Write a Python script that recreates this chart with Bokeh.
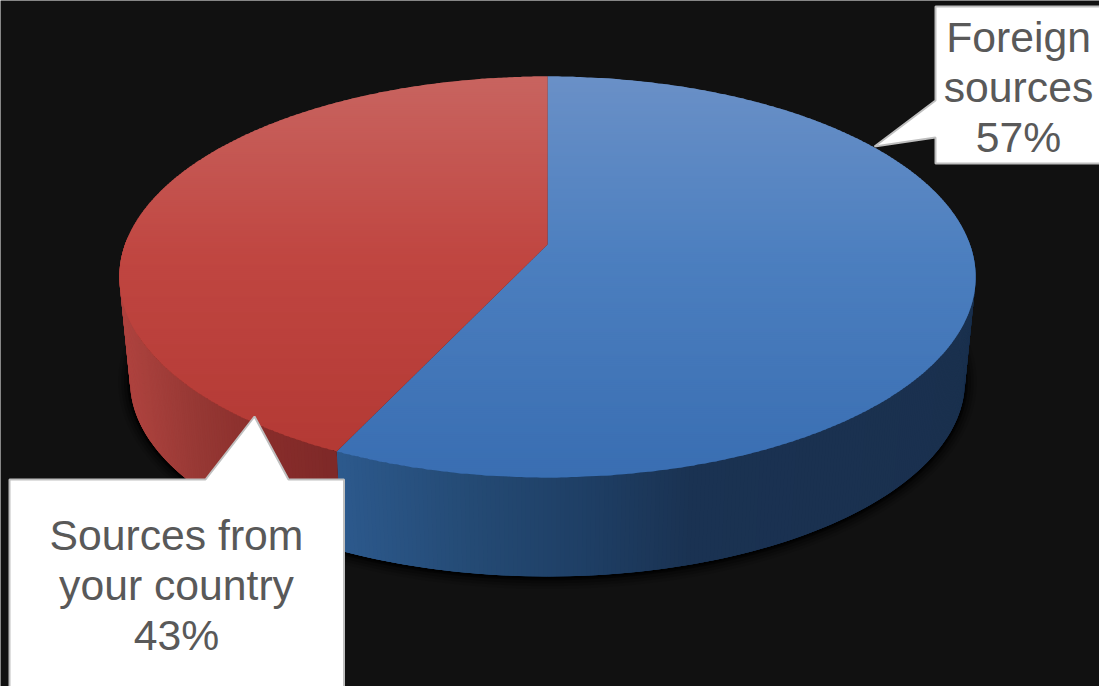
import numpy as np
from bokeh.core.properties import value
from bokeh.embed import file_html
from bokeh.models import Range1d
from bokeh.plotting import figure
from bokeh.resources import INLINE

# Chart data
categories = ["Foreign sources", "Sources from your country"]
shares = [57, 43]
label_lines = [["Foreign", "sources"], ["Sources from", "your country"]]

# Disc geometry on the page, in pixels, with a perspective foreshortening term
APEX_X, APEX_Y = 547.0, 244.0
SCALE_X, SCALE_Y, PERSP = 422.5, 195.2, 0.162
WALL_DROP, WALL_SCALE = 104.8, 0.975
TOP_Y0, TOP_Y1 = 76.0, 477.0

# Colour ramps: top face runs vertically (0 = far rim, 1 = near rim), wall runs along x
top_stops = [0.0, 0.45, 1.0]
top_ramps = [
    [(106, 144, 199), (76, 127, 191), (57, 110, 178)],
    [(200, 100, 96), (192, 70, 65), (178, 56, 51)],
]
wall_x_stops = [
    [338, 480, 600, 700, 975],
    [118, 200, 280, 340, 345],
]
wall_ramps = [
    [(45, 90, 142), (36, 74, 116), (30, 62, 100), (26, 50, 82), (26, 48, 78)],
    [(176, 68, 64), (150, 56, 52), (135, 44, 42), (126, 41, 40), (126, 41, 40)],
]


def ramp(t, stops, colors):
    return "#%02x%02x%02x" % tuple(
        int(round(np.interp(t, stops, [c[i] for c in colors]))) for i in range(3)
    )


def project(theta, scale=1.0, drop=0.0):
    u, v = np.sin(theta), -np.cos(theta)
    d = 1 - PERSP * v
    return APEX_X + scale * SCALE_X * u / d, APEX_Y + drop + scale * SCALE_Y * v / d


def clip_band(pts, y0, y1):
    # Sutherland-Hodgman against the two horizontal edges of a band
    def clip(poly, keep, limit):
        out = []
        for a, b in zip(poly, poly[1:] + poly[:1]):
            ka, kb = keep(a[1]), keep(b[1])
            if ka:
                out.append(a)
            if ka != kb:
                t = (limit - a[1]) / (b[1] - a[1])
                out.append((a[0] + t * (b[0] - a[0]), limit))
        return out

    poly = clip(pts, lambda y: y >= y0, y0)
    return clip(poly, lambda y: y <= y1, y1) if poly else []


p = figure(
    width=1099, height=686, output_backend="svg", toolbar_location=None,
    x_range=Range1d(0, 1099), y_range=Range1d(686, 0),
    min_border=0, background_fill_color="#111111", border_fill_color="#111111",
    outline_line_color=None,
)
p.axis.visible = False
p.grid.visible = False

edges = np.cumsum([0] + shares) / sum(shares) * 2 * np.pi

# Soft shadow beneath the wall
all_theta = np.linspace(0, 2 * np.pi, 361)
sx, sy = project(all_theta, WALL_SCALE, WALL_DROP)
shadow_cx, shadow_cy = APEX_X, APEX_Y + WALL_DROP + 32
for grow, alpha in [(12, 0.10), (9, 0.15), (6, 0.25), (3, 0.45), (1, 0.7)]:
    p.patch(shadow_cx + (sx - shadow_cx) * (1 + grow / 423),
            shadow_cy + (sy - shadow_cy) * (1 + grow / 200) + 1,
            fill_color="#000000", fill_alpha=alpha, line_color=None)

# Outer wall: quads overlap the next one painted, so that no seams show
STEP = np.radians(0.5)
VISIBLE_FROM = -0.02  # rim points farther back than this are hidden by the top face
for i in range(len(shares)):
    thetas = np.arange(edges[i], edges[i + 1], STEP).tolist() + [edges[i + 1]]
    xs, ys, cols = [], [], []
    for a, b in zip(thetas, thetas[1:]):
        if -np.cos((a + b) / 2) < VISIBLE_FROM:
            continue
        end = min(b + 2 * STEP, edges[i + 1])
        ax, ay = project(a)
        bx, by = project(end)
        cx_, cy_ = project(end, WALL_SCALE, WALL_DROP)
        dx, dy = project(a, WALL_SCALE, WALL_DROP)
        xs.append([ax, bx, cx_, dx])
        ys.append([ay, by, cy_, dy])
        cols.append(ramp(project((a + b) / 2)[0], wall_x_stops[i], wall_ramps[i]))
    # Painted last-to-first, each quad's overlap falls under the quad before it
    p.patches(xs[::-1], ys[::-1], fill_color=cols[::-1], line_color=None)

# Top face: each slice is cut into thin horizontal bands to carry its gradient
band_edges = np.arange(TOP_Y0 - 2, TOP_Y1 + 4, 2.0)
for i in range(len(shares)):
    arc = np.linspace(edges[i], edges[i + 1], 361)
    ax, ay = project(arc)
    outline = [(APEX_X, APEX_Y)] + list(zip(ax.tolist(), ay.tolist()))
    xs, ys, cols = [], [], []
    for y0, y1 in zip(band_edges, band_edges[1:]):
        piece = clip_band(outline, y0, y1 + 1)
        if len(piece) < 3:
            continue
        xs.append([q[0] for q in piece])
        ys.append([q[1] for q in piece])
        cols.append(ramp((y0 + 1 - TOP_Y0) / (TOP_Y1 - TOP_Y0), top_stops, top_ramps[i]))
    p.patches(xs, ys, fill_color=cols, line_color=None)

# Callouts
callout_x = [
    [935, 935, 1110, 1110, 935, 935, 874],
    [9, 205, 254, 288, 343.5, 343.5, 9],
]
callout_y = [
    [100, 6, 6, 163, 163, 137, 146],
    [479, 479, 416, 479, 479, 700, 700],
]
p.patches(callout_x, callout_y, fill_color="#ffffff", line_color="#bfbfbf", line_width=2)

label_x = [1018, 176]
label_y = [36, 534]
LINE_GAP = 50
for i, lines in enumerate(label_lines):
    rows = lines + [f"{shares[i]}%"]
    p.text(
        [label_x[i]] * len(rows),
        [label_y[i] + LINE_GAP * r for r in range(len(rows))],
        text=rows,
        text_align="center", text_baseline="middle",
        text_color="#595959", text_font=value("Liberation Sans"),
        text_font_size="42.7px",
    )

open("out.html", "w").write(file_html(p, INLINE))
